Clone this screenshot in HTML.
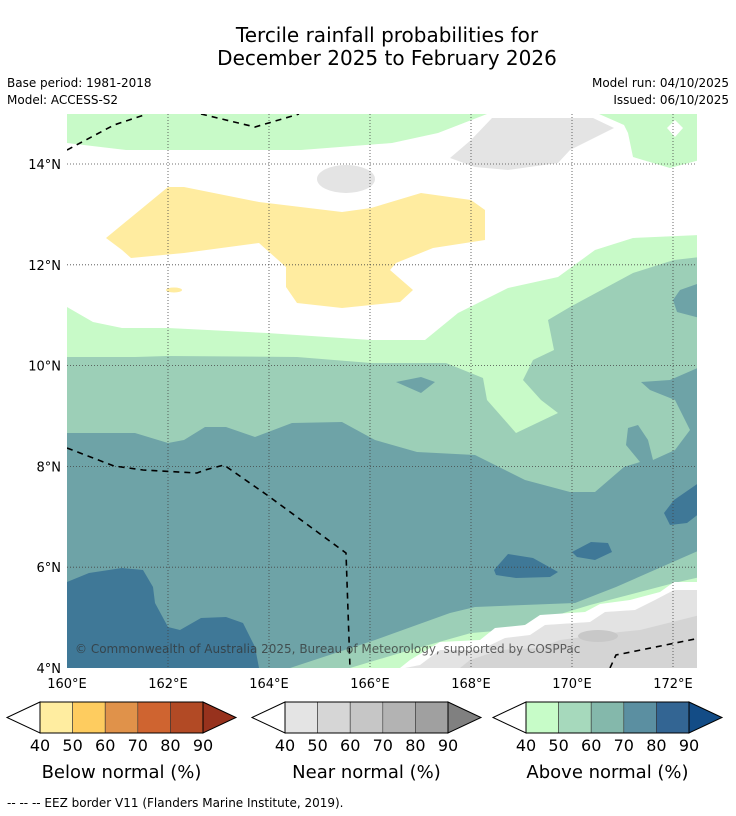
<!DOCTYPE html>
<html><head><meta charset="utf-8">
<style>
body{margin:0;background:#fff;width:736px;height:816px;overflow:hidden;font-family:"DejaVu Sans","Liberation Sans",sans-serif;}
svg{position:absolute;left:0;top:0}
</style></head>
<body>
<svg id="chart" width="736" height="816" viewBox="0 0 736 816">
<text x="387" y="42" font-size="20" text-anchor="middle" fill="#000">Tercile rainfall probabilities for</text>
<text x="387" y="65" font-size="20" text-anchor="middle" fill="#000">December 2025 to February 2026</text>
<text x="7" y="87" font-size="12">Base period: 1981-2018</text>
<text x="7" y="104" font-size="12">Model: ACCESS-S2</text>
<text x="729" y="87" font-size="12" text-anchor="end">Model run: 04/10/2025</text>
<text x="729" y="104" font-size="12" text-anchor="end">Issued: 06/10/2025</text>

<defs><clipPath id="mapclip"><rect x="67" y="114" width="630" height="554"/></clipPath></defs>
<g clip-path="url(#mapclip)">
<rect x="67" y="114" width="630" height="554" fill="#fff"/>
<polygon fill="#c8fac8" points="67,114 487,114 438,133 392,143 301,150 168,150 126,150 67,143"/>
<polygon fill="#c8fac8" points="599,114 700,114 700,160 670,168 633,157 628,133 624,125"/>
<polygon fill="#fff" points="675,120 683,128 675,137 667,128"/>
<polygon fill="#e4e4e4" points="492,118 593,118 614,128 570,150 558,163 508,170 475,167 450,158 471,140"/>
<ellipse fill="#e4e4e4" cx="346" cy="179" rx="29" ry="14"/>
<polygon fill="#ffeca0" points="106,238 168,187 184,187 259,202 342,212 371,208 421,193 471,200 485,210 485,240 433,248 396,263 390,270 413,290 400,302 342,308 297,303 286,287 286,267 259,243 184,253 131,258 122,250"/>
<ellipse fill="#ffeca0" cx="174" cy="290" rx="8" ry="2.5"/>
<polygon fill="#c8fac8" points="67,307 93,322 122,328 168,328 267,333 371,340 425,340 458,313 508,288 558,277 595,250 633,238 700,235 700,668 67,668"/>
<polygon fill="#9ccfb7" points="67,357 135,357 168,356 297,357 371,363 446,363 483,378 487,400 516,433 558,413 541,400 523,380 533,360 554,350 548,320 570,307 633,273 674,260 700,257 700,668 67,668"/>
<polygon fill="#6ea3a7" points="67,433 135,433 168,443 184,440 205,427 226,427 255,437 292,423 342,422 375,440 417,452 475,455 525,480 570,492 595,492 624,467 640,462 626,445 628,428 638,425 648,440 653,460 675,450 690,430 675,400 650,390 641,382 670,380 700,367 700,668 67,668"/>
<polygon fill="#6ea3a7" points="700,283 680,290 673,300 677,312 700,318"/>
<polygon fill="#6ea3a7" points="396,382 421,377 435,382 421,393"/>
<polygon fill="#9ccfb7" points="290,668 375,640 450,613 475,607 575,603 616,587 700,550 700,668"/>
<polygon fill="#c8fac8" points="350,668 400,653 471,633 508,630 590,605 674,583 700,577 700,668"/>
<polygon fill="#fff" points="700,582 674,582 660,592 630,600 600,604 585,612 540,615 525,625 495,628 480,640 440,642 410,660 400,668 700,668"/>
<polygon fill="#e3e3e3" points="700,590 674,590 655,600 635,610 605,612 590,622 545,625 530,635 505,638 480,650 440,650 420,665 405,668 700,668"/>
<polygon fill="#d4d4d4" points="700,615 680,620 640,630 620,632 560,640 540,648 500,650 470,660 460,668 700,668"/>
<ellipse fill="#c8c8c8" cx="598" cy="636" rx="20" ry="6"/>
<polygon fill="#3f7897" points="67,582 89,573 122,568 143,570 153,587 155,603 168,627 180,630 201,618 226,617 243,623 255,647 259,668 67,668"/>
<polygon fill="#3f7897" points="494,570 508,554 533,558 558,572 550,577 516,578 496,575"/>
<polygon fill="#3f7897" points="572,552 591,542 608,543 612,552 595,560 577,557"/>
<polygon fill="#3f7897" points="700,482 674,500 664,513 670,525 687,523 700,513"/>
<g id="grid" stroke="#444" stroke-width="0.8" stroke-dasharray="1,2" fill="none"></g>
<g fill="none" stroke="#000" stroke-width="1.6" stroke-dasharray="6,5">
<polyline points="67,150 114,125 147,114"/>
<polyline points="201,114 255,127 299,114"/>
<polyline points="67,448 114,466 143,470 197,473 205,470 224,465 267,495 346,553 350,668"/>
<polyline points="610,668 616,655 700,638"/>
</g>
<text x="75" y="653" font-size="12" fill="#333" fill-opacity="0.75">© Commonwealth of Australia 2025, Bureau of Meteorology, supported by COSPPac</text>
</g>
<g id="axes" font-size="13"></g>
<g id="legends"></g>
<text x="7" y="807" font-size="12">--  --  -- EEZ border V11 (Flanders Marine Institute, 2019).</text>
</svg>
<script>
const lonTicks=[160,162,164,166,168,170,172];
const latTicks=[14,12,10,8,6,4];
const legendTicks=[40,50,60,70,80,90];
const belowColors=["#ffeda0","#fecc5f","#e0924a","#cf6430","#b24a25","#97321d"];
const nearColors=["#e4e4e4","#d6d6d6","#c6c6c6","#b3b3b3","#a0a0a0","#808080"];
const aboveColors=["#c7fcc8","#a6d9bc","#84b8ab","#5b8fa1","#336593","#134c86"];
const legendTitles=["Below normal (%)","Near normal (%)","Above normal (%)"];
const NS="http://www.w3.org/2000/svg";
const xL=lon=>67+(lon-160)*50.5;
const yL=lat=>164+(14-lat)*50.4;
function mk(tag,attrs,parent){const e=document.createElementNS(NS,tag);for(const k in attrs)e.setAttribute(k,attrs[k]);parent.appendChild(e);return e;}
const grid=document.getElementById('grid'),axes=document.getElementById('axes');
lonTicks.forEach(l=>{
  if(l>160){const g=mk('line',{x1:xL(l),x2:xL(l),y1:114,y2:668},grid);
  
  }
  const t=mk('text',{x:xL(l),y:688,'text-anchor':'middle'},axes);t.textContent=l+'°E';
  
  
});
latTicks.forEach(l=>{
  if(l>4){const g=mk('line',{x1:67,x2:697,y1:yL(l),y2:yL(l)},grid);
  
  }
  const t=mk('text',{x:61,y:yL(l)+5,'text-anchor':'end'},axes);t.textContent=l+'°N';
  
  
});
const lg=document.getElementById('legends');
const boxStarts=[40,285,526];
[belowColors,nearColors,aboveColors].forEach((cols,i)=>{
  const x0=boxStarts[i],w=163/5,top=702,bot=733,mid=717.5;
  const g=mk('g',{},lg);
  
  
  const lt=mk('polygon',{points:`${x0},${top} ${x0-33},${mid} ${x0},${bot}`,fill:'#fff',stroke:'#000','stroke-width':1},g);
  
  
  for(let k=0;k<5;k++){
    const r=mk('rect',{x:x0+k*w,y:top,width:w,height:bot-top,fill:cols[k],stroke:'#333','stroke-width':0.6},g);
    
    
  }
  const rt=mk('polygon',{points:`${x0+163},${top} ${x0+196},${mid} ${x0+163},${bot}`,fill:cols[5],stroke:'#000','stroke-width':1},g);
  
  
  mk('rect',{x:x0,y:top,width:163,height:bot-top,fill:'none',stroke:'#000','stroke-width':1},g);
  legendTicks.forEach((v,k)=>{
    const t=mk('text',{x:x0+k*w,y:751,'font-size':16,'text-anchor':'middle'},g);t.textContent=v;
    
    
  });
  const tt=mk('text',{x:x0+81.5,y:778,'font-size':18,'text-anchor':'middle'},g);tt.textContent=legendTitles[i];
  
  
});
</script>
</body></html>
